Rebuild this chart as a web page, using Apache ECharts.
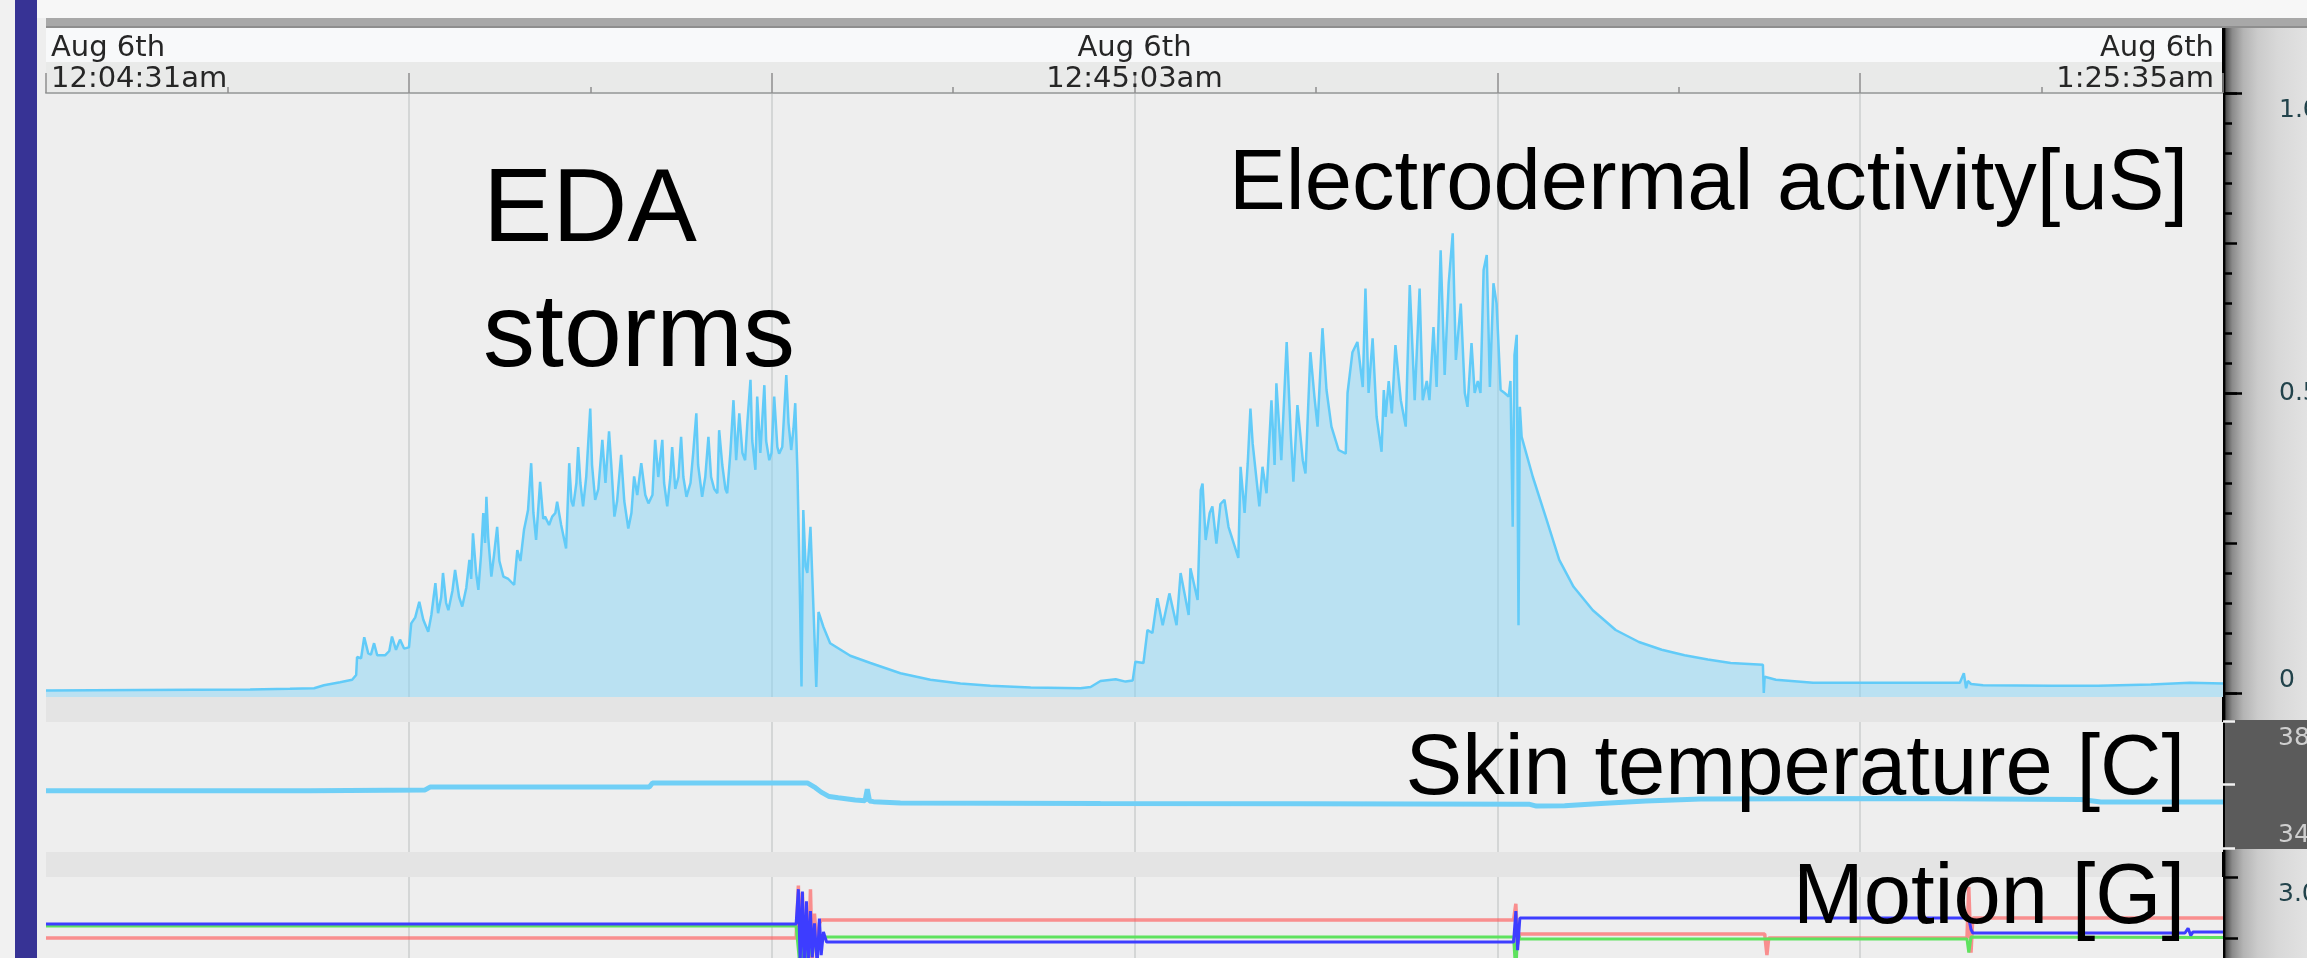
<!DOCTYPE html>
<html>
<head>
<meta charset="utf-8">
<script src="https://cdn.jsdelivr.net/npm/echarts@6/dist/echarts.min.js"></script>
<style>
html,body{margin:0;padding:0;background:#f1f1f1;}
#chart{width:2307px;height:958px;}
</style>
</head>
<body>
<div id="chart"></div>
<script>
// ---- time axis (seconds elapsed from 12:04:31am) ----
const timeSpan = 4864;
const timeLabelSeconds = [0, 2432, 4864];
const timeLabelDates = ['Aug 6th', 'Aug 6th', 'Aug 6th'];
const timeLabelTimes = ['12:04:31am', '12:45:03am', '1:25:35am'];
const timeLabelStyles = ['s', 'm', 'e'];

// ---- right-axis tick labels ----
const edaTickValues = [0, 0.5, 1];
const edaTickLabels = ['0', '0.5', '1.0'];
const tempTickValues = [34, 38];
const tempTickLabels = ['34', '38'];

// ---- Electrodermal activity [uS]: [seconds, value] ----
const edaData = [
[0,.004],[210,.005],[456,.006],[545,.007],[599,.008],[621,.013],[657,.018],[684,.022],[693,.030],
[695,.060],[704,.058],[711,.093],[720,.066],[726,.064],[733,.083],[740,.063],[758,.063],[767,.070],[773,.094],[782,.072],[791,.089],[800,.074],[811,.076],[816,.116],[825,.126],[834,.152],[843,.122],[854,.102],[861,.130],[870,.183],[876,.133],[883,.160],[887,.200],[894,.150],[899,.138],[908,.170],[914,.205],[923,.160],[930,.144],[939,.175],[946,.222],[950,.190],[954,.266],[961,.200],[966,.172],[972,.230],[977,.300],[981,.250],[984,.327],[988,.260],[995,.194],[1001,.230],[1008,.277],[1013,.220],[1022,.194],[1033,.190],[1046,.180],[1053,.238],[1060,.220],[1068,.272],[1073,.290],[1077,.305],[1084,.383],[1089,.300],[1095,.255],[1104,.352],[1111,.290],[1115,.294],[1124,.280],[1131,.294],[1138,.300],[1142,.319],[1151,.280],[1162,.241],[1169,.383],[1174,.320],[1178,.311],[1185,.350],[1189,.410],[1194,.350],[1200,.311],[1207,.360],[1216,.474],[1220,.380],[1227,.322],[1234,.340],[1243,.422],[1250,.350],[1258,.436],[1263,.380],[1270,.294],[1276,.320],[1285,.397],[1292,.320],[1301,.274],[1308,.300],[1314,.361],[1321,.330],[1330,.383],[1339,.330],[1346,.316],[1355,.330],[1361,.422],[1368,.360],[1377,.422],[1381,.350],[1388,.311],[1395,.360],[1399,.410],[1406,.340],[1413,.360],[1419,.427],[1424,.360],[1431,.327],[1440,.350],[1446,.400],[1453,.466],[1457,.380],[1466,.327],[1473,.360],[1480,.427],[1486,.360],[1493,.340],[1500,.333],[1504,.438],[1511,.380],[1518,.340],[1522,.333],[1529,.400],[1536,.488],[1542,.388],[1549,.466],[1556,.400],[1562,.388],[1567,.450],[1574,.522],[1578,.420],[1585,.372],[1589,.494],[1596,.400],[1605,.513],[1609,.420],[1616,.388],[1621,.400],[1627,.494],[1634,.410],[1638,.399],[1645,.410],[1654,.530],[1659,.450],[1665,.405],[1670,.440],[1674,.483],[1679,.366],[1683,.222],[1688,.011],[1692,.305],[1697,.211],[1701,.200],[1708,.277],[1714,.155],[1721,.010],[1726,.135],[1737,.110],[1752,.083],
[1797,.062],[1842,.050],[1909,.033],[1976,.022],[2043,.016],[2110,.012],[2200,.009],[2311,.008],[2334,.010],[2356,.020],[2390,.023],[2412,.019],[2428,.021],
[2434,.052],[2452,.050],[2461,.105],[2472,.100],[2483,.158],[2495,.113],[2510,.166],[2526,.113],[2535,.200],[2553,.130],[2557,.208],[2573,.155],[2580,.338],[2584,.349],[2591,.255],[2600,.300],[2606,.311],[2615,.249],[2624,.315],[2633,.322],[2642,.277],[2664,.225],[2669,.377],[2678,.300],[2685,.383],[2691,.474],[2696,.416],[2711,.311],[2718,.377],[2727,.333],[2738,.488],[2745,.380],[2749,.516],[2760,.388],[2772,.585],[2781,.433],[2787,.352],[2796,.480],[2808,.388],[2814,.366],[2825,.568],[2834,.494],[2841,.444],[2852,.608],[2861,.505],[2872,.444],[2888,.405],[2904,.399],[2908,.500],[2919,.568],[2930,.585],[2942,.510],[2948,.674],[2955,.500],[2964,.591],[2973,.460],[2984,.402],[2989,.505],[2993,.460],[3000,.520],[3007,.466],[3015,.580],[3027,.488],[3038,.444],[3047,.680],[3058,.488],[3069,.674],[3076,.488],[3085,.520],[3091,.488],[3100,.610],[3107,.510],[3116,.738],[3125,.530],[3134,.683],[3143,.766],[3150,.555],[3161,.649],[3170,.500],[3176,.477],[3185,.583],[3192,.500],[3199,.520],[3205,.500],[3212,.705],[3219,.730],[3226,.510],[3234,.683],[3241,.649],[3250,.505],[3259,.500],[3268,.494],[3272,.520],[3277,.277],[3281,.563],[3286,.597],[3290,.113],[3293,.477],[3297,.427],
[3322,.360],[3353,.288],[3381,.222],[3413,.177],[3456,.138],[3507,.105],[3559,.085],[3610,.072],[3661,.063],[3713,.056],[3764,.050],[3836,.047],[3838,.000],[3840,.027],[3865,.022],[3948,.017],[4144,.017],[4276,.017],[4285,.033],[4290,.008],[4294,.020],[4301,.015],[4328,.013],[4480,.012],[4585,.012],[4703,.014],[4790,.017],[4864,.016]
];

// ---- Skin temperature [C]: [seconds, value] ----
const tempData = [
[0,35.80],[590,35.80],[847,35.83],[858,35.92],[1348,35.92],[1355,36.05],[1701,36.05],[1719,35.90],[1732,35.76],[1750,35.62],[1770,35.58],[1808,35.51],[1830,35.49],[1835,35.85],[1840,35.48],[1849,35.46],[1909,35.42],[2356,35.40],[2803,35.39],[3313,35.38],[3330,35.32],[3393,35.33],[3474,35.40],[3574,35.48],[3697,35.54],[4144,35.56],[4547,35.53],[4591,35.45],[4864,35.45]
];

// ---- Motion [G]: three axes, [seconds, value] ----
const motionRed = [
[0,2.5],[1676,2.5],[1681,2.93],[1685,2.20],[1690,2.87],[1694,2.15],[1699,2.60],[1703,2.22],[1708,2.90],[1712,2.30],[1717,2.70],[1723,2.40],[1728,2.62],[1732,2.648],[3279,2.648],[3284,2.78],[3288,2.45],[3293,2.533],[3840,2.533],[3845,2.36],[3849,2.50],[4292,2.50],[4296,2.92],[4301,2.38],[4305,2.664],[4864,2.664]
];
const motionGreen = [
[0,2.598],[1676,2.598],[1681,2.40],[1685,2.25],[1690,2.70],[1694,2.20],[1699,2.62],[1703,2.30],[1708,2.55],[1712,2.35],[1717,2.52],[1723,2.40],[1728,2.508],[3279,2.508],[3284,2.20],[3288,2.56],[3293,2.492],[4292,2.492],[4296,2.38],[4301,2.508],[4864,2.505]
];
const motionBlue = [
[0,2.615],[1676,2.615],[1681,2.90],[1685,2.30],[1690,2.88],[1694,2.25],[1699,2.80],[1703,2.30],[1708,2.72],[1712,2.34],[1717,2.62],[1723,2.28],[1728,2.66],[1732,2.36],[1737,2.55],[1744,2.467],[3279,2.467],[3284,2.72],[3288,2.40],[3293,2.664],[4296,2.664],[4301,2.57],[4305,2.541],[4779,2.541],[4786,2.58],[4792,2.52],[4797,2.55],[4864,2.55]
];

// ---------------------------------------------------------------
const chart = echarts.init(document.getElementById('chart'), null, {renderer: 'canvas'});

const L = 46, W = 2177;
const labelFont = 'DejaVu Sans';
const splitStyle = {show: true, showMinLine: false, showMaxLine: false, lineStyle: {color: '#cbcece', width: 1.5}};
const noLine = {show: false, onZero: false};

function timeFormatter(v) {
  for (let i = 0; i < timeLabelSeconds.length; i++) {
    if (Math.abs(v - timeLabelSeconds[i]) < 2) {
      const k = timeLabelStyles[i];
      return '{' + k + '|' + timeLabelDates[i] + '}\n{' + k + '|' + timeLabelTimes[i] + '}';
    }
  }
  return '';
}
function pick(values, labels) {
  return function (v) {
    for (let i = 0; i < values.length; i++) if (Math.abs(v - values[i]) < 1e-6) return labels[i];
    return '';
  };
}
const richBase = {fontFamily: labelFont, fontSize: 29, color: '#262626', lineHeight: 31};

const hiddenX = (g) => ({gridIndex: g, type: 'value', min: 0, max: timeSpan, show: false, axisLine: noLine});
const panelX = (g) => ({
  gridIndex: g, type: 'value', min: 0, max: timeSpan, interval: timeSpan / 6,
  axisLine: noLine, axisTick: {show: false}, axisLabel: {show: false},
  splitLine: splitStyle
});
const gridBase = {left: L, width: W, containLabel: false, outerBoundsMode: 'none'};
const mkGrid = (top, height, bg) => Object.assign({}, gridBase, {top: top, height: height,
  show: !!bg, backgroundColor: bg || 'transparent', borderWidth: 0});
const textFont = (s) => s + 'px "Liberation Sans", Arial, sans-serif';
const txt = (x, y, t, size, align) => ({type: 'text', z: 100, x: x, y: y, style: {text: t, font: textFont(size),
  fill: '#000', align: align, verticalAlign: 'middle', textAlign: align, textVerticalAlign: 'middle'}});

const option = {
  animation: false,
  backgroundColor: '#f1f1f1',
  graphic: [
    {type: 'rect', z: -100, shape: {x: 0, y: 0, width: 15, height: 958}, style: {fill: '#f1f1f1'}},
    {type: 'rect', z: -100, shape: {x: 15, y: 0, width: 22, height: 958}, style: {fill: '#373395'}},
    {type: 'rect', z: -100, shape: {x: 37, y: 0, width: 9, height: 958}, style: {fill: '#eeeeee'}},
    {type: 'rect', z: -100, shape: {x: 37, y: 0, width: 2270, height: 18}, style: {fill: '#f7f7f7'}},
    {type: 'rect', z: -100, shape: {x: 46, y: 18, width: 2261, height: 10}, style: {fill: '#a8a8a8'}},
    {type: 'rect', z: -100, shape: {x: 46, y: 26, width: 2261, height: 2}, style: {fill: '#8e8e8e'}},
    {type: 'rect', z: -100, shape: {x: 46, y: 28, width: 2177, height: 34}, style: {fill: '#f8f9fa'}},
    {type: 'rect', z: -100, shape: {x: 46, y: 62, width: 2177, height: 31}, style: {fill: '#e9eae9'}},
    {type: 'rect', z: -100, shape: {x: 46, y: 93, width: 2177, height: 865}, style: {fill: '#e4e4e4'}},
    {type: 'rect', z: -100, shape: {x: 2222, y: 28, width: 85, height: 930}, style: {
      fill: new echarts.graphic.LinearGradient(0, 0, 1, 0, [
        {offset: 0, color: '#000000'}, {offset: 0.035, color: '#000000'},
        {offset: 0.045, color: '#4e4e4e'}, {offset: 0.12, color: '#8a8a8a'},
        {offset: 0.25, color: '#b4b4b4'}, {offset: 0.42, color: '#cbcbcb'},
        {offset: 0.65, color: '#d8d8d8'}, {offset: 1, color: '#e2e2e2'}
      ])}},
    {type: 'rect', z: -99, shape: {x: 2225, y: 720, width: 82, height: 129}, style: {fill: '#5b5b5b'}},
    // annotation texts
    txt(483, 212, 'EDA', 104, 'left'),
    txt(483, 337, 'storms', 104, 'left'),
    txt(2188, 186, 'Electrodermal activity[uS]', 85, 'right'),
    txt(2185, 771, 'Skin temperature [C]', 85, 'right'),
    txt(2185, 900, 'Motion [G]', 85, 'right')
  ],
  grid: [
    mkGrid(93, 604, '#eeeeee'),   // 0 EDA panel + data
    mkGrid(93, 600, null),        // 1 EDA major ticks/labels
    mkGrid(722, 130, '#eeeeee'),  // 2 temp panel + data
    mkGrid(721, 127, null),       // 3 temp ticks/labels
    mkGrid(877, 732, '#eeeeee'),  // 4 motion panel + data + ticks
    mkGrid(93, 600, null)         // 5 EDA minor ticks
  ],
  xAxis: [
    {
      gridIndex: 0, type: 'value', min: 0, max: timeSpan, interval: timeSpan / 6, position: 'top',
      axisLine: {show: true, onZero: false, lineStyle: {color: '#a9abab', width: 2}},
      axisTick: {show: true, length: 20, lineStyle: {color: '#8e8e8e', width: 1.5}},
      minorTick: {show: true, splitNumber: 2, length: 6, lineStyle: {color: '#8e8e8e', width: 1.5}},
      splitLine: splitStyle,
      axisLabel: {
        show: true, margin: -2, showMinLabel: true, showMaxLabel: true,
        alignMinLabel: 'left', alignMaxLabel: 'right',
        fontFamily: labelFont, fontSize: 29, color: '#262626', lineHeight: 31,
        formatter: timeFormatter,
        rich: {
          s: Object.assign({}, richBase, {padding: [0, 0, 0, 5]}),
          m: Object.assign({}, richBase),
          e: Object.assign({}, richBase, {padding: [0, 9, 0, 0]})
        }
      }
    },
    hiddenX(1),
    panelX(2),
    hiddenX(3),
    panelX(4),
    hiddenX(5)
  ],
  yAxis: [
    {gridIndex: 0, type: 'value', min: -0.00667, max: 1, show: false, axisLine: noLine},
    {
      gridIndex: 1, type: 'value', min: 0, max: 1, interval: 0.5, position: 'right',
      axisLine: noLine, splitLine: {show: false},
      axisTick: {show: true, length: 19, lineStyle: {color: '#000', width: 2.5}},
      axisLabel: {show: true, margin: 56, fontFamily: labelFont, fontSize: 25, color: '#22434b',
        padding: [5, 0, 0, 0],
        verticalAlignMinLabel: 'bottom', verticalAlignMaxLabel: 'top',
        formatter: pick(edaTickValues, edaTickLabels)}
    },
    {gridIndex: 2, type: 'value', min: 33.874, max: 37.969, show: false, axisLine: noLine},
    {
      gridIndex: 3, type: 'value', min: 34, max: 38, interval: 2, position: 'right',
      axisLine: noLine, splitLine: {show: false},
      axisTick: {show: true, length: 12, lineStyle: {color: '#f2f2f2', width: 2.5}},
      axisLabel: {show: true, margin: 55, fontFamily: labelFont, fontSize: 25, color: '#cfcfcf',
        padding: [5, 0, 0, 0],
        verticalAlignMinLabel: 'bottom', verticalAlignMaxLabel: 'top',
        formatter: pick(tempTickValues, tempTickLabels)}
    },
    {
      gridIndex: 4, type: 'value', min: -3, max: 3, interval: 0.5, position: 'right',
      axisLine: noLine, splitLine: {show: false},
      axisTick: {show: true, length: 15, lineStyle: {color: '#000', width: 2.5}},
      axisLabel: {show: true, margin: 55, fontFamily: labelFont, fontSize: 25, color: '#22434b',
        padding: [5, 0, 0, 0],
        verticalAlignMaxLabel: 'top',
        formatter: function (v) { return Math.abs(v - Math.round(v)) < 1e-6 ? v.toFixed(1) : ''; }}
    },
    {
      gridIndex: 5, type: 'value', min: 0, max: 1, interval: 0.25, position: 'right',
      axisLine: noLine, splitLine: {show: false}, axisLabel: {show: false},
      axisTick: {show: true, length: 14, lineStyle: {color: '#000', width: 2.5}},
      minorTick: {show: true, splitNumber: 5, length: 9, lineStyle: {color: '#000', width: 2.5}}
    }
  ],
  series: [
    {type: 'line', name: 'EDA', xAxisIndex: 0, yAxisIndex: 0, data: edaData, showSymbol: false, symbol: 'none',
      lineStyle: {color: '#62cbf8', width: 2.5}, areaStyle: {color: 'rgba(133,211,245,0.5)', opacity: 1, origin: 'start'}},
    {type: 'line', name: 'Temp', xAxisIndex: 2, yAxisIndex: 2, data: tempData, showSymbol: false, symbol: 'none',
      lineStyle: {color: '#70cff6', width: 5}},
    {type: 'line', name: 'Red', xAxisIndex: 4, yAxisIndex: 4, data: motionRed, showSymbol: false, symbol: 'none',
      lineStyle: {color: '#ff5a5a', width: 3.5, opacity: 0.65}},
    {type: 'line', name: 'Green', xAxisIndex: 4, yAxisIndex: 4, data: motionGreen, showSymbol: false, symbol: 'none',
      lineStyle: {color: '#5ee25e', width: 3}},
    {type: 'line', name: 'Blue', xAxisIndex: 4, yAxisIndex: 4, data: motionBlue, showSymbol: false, symbol: 'none',
      lineStyle: {color: '#3d3dff', width: 3}}
  ]
};
chart.setOption(option);
</script>
</body>
</html>
